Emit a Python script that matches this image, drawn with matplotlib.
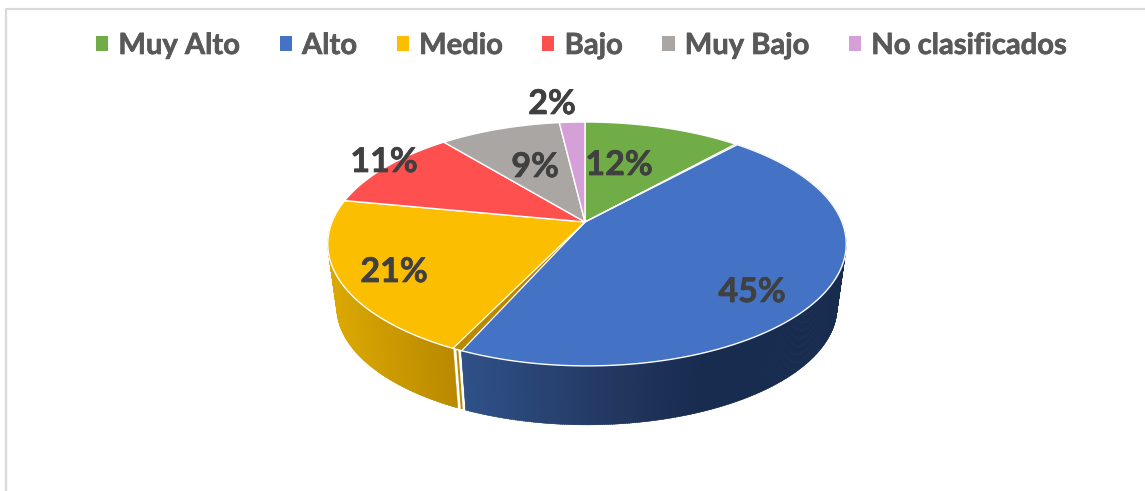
import numpy as np
import matplotlib
matplotlib.use("Agg")
import matplotlib.pyplot as plt
import matplotlib.patheffects as pe
from matplotlib.patches import Patch

categories = ["Muy Alto", "Alto", "Medio", "Bajo", "Muy Bajo", "No clasificados"]
values = [11.6, 45.4, 21.0, 11.0, 9.1, 1.9]
colors = ["#70ad47", "#4472c4", "#fcbe00", "#ff5050", "#a9a6a4", "#d5a0d8"]
label_x = [619, 752, 394, 384, 535, 552]
label_y = [165, 292, 272, 162, 167, 104]

# projected pie: apex of the slices sits above the middle of the ellipse
apex_x, apex_y = 585, 222
rim_shift = 2
persp = 0.18
scale_x, scale_y = 255, 118
wall_shrink, wall_drop = 0.965, 64


def top_point(ang):
    ang = np.radians(ang)
    u, v = np.sin(ang), np.cos(ang)
    d = 1 + persp * v
    # rim leans right at the sides but the top point stays over the apex
    shift = rim_shift * (1 - np.clip(v, 0, 1) ** 6)
    return apex_x + shift + scale_x * u / d, apex_y - scale_y * v / d


def bottom_point(ang):
    x, y = top_point(ang)
    return apex_x + (x - apex_x) * wall_shrink, apex_y + (y - apex_y) * wall_shrink + wall_drop


def wedge(a0, a1):
    ang = np.linspace(a0, a1, 200)
    x, y = top_point(ang)
    return np.r_[apex_x, x], np.r_[apex_y, y]


def wall(a0, a1, x_stops, c_stops, step=0.4):
    stops = np.array([matplotlib.colors.to_rgb(c) for c in c_stops])
    for a in np.arange(a0, a1, step):
        a2 = min(a + step * 1.5, a1)
        x1, y1 = top_point(np.array([a, a2]))
        x2, y2 = bottom_point(np.array([a2, a]))
        mid = (x1.mean() + x2.mean()) / 2
        col = [np.interp(mid, x_stops, stops[:, i]) for i in range(3)]
        ax.fill(np.r_[x1, x2], np.r_[y1, y2], color=col, lw=0.3, zorder=1)


fig = plt.figure(figsize=(11.45, 4.91), dpi=100)
ax = fig.add_axes([0, 0, 1, 1])
ax.set_xlim(0, 1145)
ax.set_ylim(491, 0)
ax.axis("off")

# chart border, only left and top show in the crop
ax.plot([6, 6, 1145], [491, 8.5, 8.5], color="#d9d9d9", lw=1.6, zorder=0)

edges = np.cumsum([0] + values) * 3.6

# side walls (only Alto and Medio are visible)
wall(edges[1], edges[2] - 0.9, [465, 620, 700, 846],
     ["#2f5188", "#22365f", "#182c50", "#182c50"])
wall(edges[2] + 0.9, edges[3], [335, 460], ["#dba800", "#b88800"])

# white seam on the wall between Alto and Medio
sx, sy = top_point(edges[2])
bx, by = bottom_point(edges[2])
ax.plot([sx, bx], [sy, by], color="white", lw=3.6, zorder=2, solid_capstyle="butt")
ax.plot([sx, bx], [sy, by], color="#b88800", lw=1.4, zorder=2, solid_capstyle="butt")

# top faces
for i in range(len(values)):
    x, y = wedge(edges[i], edges[i + 1])
    ax.fill(x, y, facecolor=colors[i], edgecolor="white", lw=1.0, zorder=3, joinstyle="round")

# slit between slices where the inner face shows
for ang, pad, col in [(edges[2], 0.95, "#b88800"), (edges[1], 0.3, "#4f7a35")]:
    p0 = top_point(ang - pad)
    p1 = top_point(ang + pad)
    ax.fill([apex_x, p0[0], p1[0]], [apex_y, p0[1], p1[1]], facecolor=col,
            edgecolor="white", lw=0.9, zorder=4)

thicker = [pe.withStroke(linewidth=0.5, foreground="#404040")]
for i in range(len(values)):
    ax.text(label_x[i], label_y[i], f"{round(values[i])}%", color="#404040", fontsize=24.5,
            fontfamily="Lato", fontweight="bold", ha="center", va="center", zorder=5,
            path_effects=thicker)

handles = [Patch(facecolor=c, edgecolor="none") for c in colors]
leg = ax.legend(handles, categories, loc="center", bbox_to_anchor=(581.5 / 1145, 1 - 46 / 491),
                ncol=6, frameon=False, handlelength=0.42, handleheight=0.42, handletextpad=0.35,
                columnspacing=1.35, borderpad=0, labelcolor="#595959",
                prop={"family": "Lato", "weight": "bold", "size": 21})
for t in leg.get_texts():
    t.set_path_effects([pe.withStroke(linewidth=0.5, foreground="#595959")])

fig.savefig("out.png", dpi=100)
